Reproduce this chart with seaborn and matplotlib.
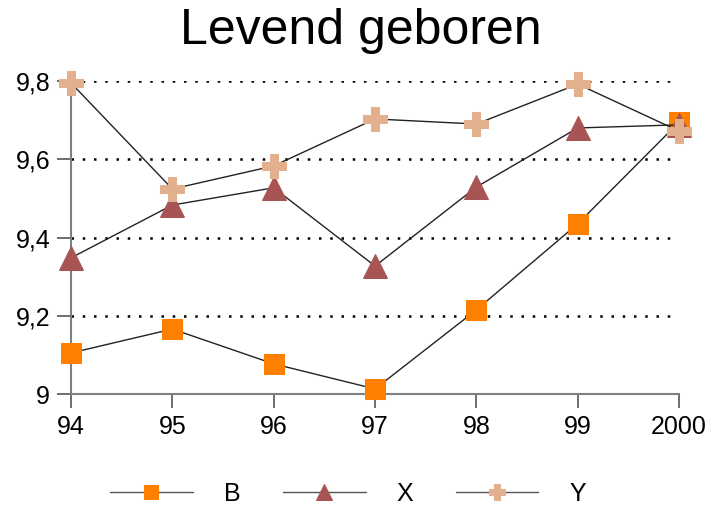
import matplotlib
matplotlib.use('Agg')
import matplotlib.pyplot as plt
import seaborn as sns
import pandas as pd

# data
jaren = ['94', '95', '96', '97', '98', '99', '2000']
B = [9.105, 9.166, 9.077, 9.013, 9.215, 9.435, 9.695]
X = [9.348, 9.483, 9.527, 9.327, 9.529, 9.680, 9.688]
Y = [9.795, 9.524, 9.583, 9.703, 9.690, 9.792, 9.672]
y_ticks = [9, 9.2, 9.4, 9.6, 9.8]
y_labels = ['9', '9,2', '9,4', '9,6', '9,8']

sns.set_style('white')
plt.rcParams['font.family'] = ['Liberation Sans', 'DejaVu Sans']
plt.rcParams['text.color'] = 'black'
plt.rcParams['xtick.labelcolor'] = 'black'
plt.rcParams['ytick.labelcolor'] = 'black'

df = pd.DataFrame({'pos': range(len(jaren)), 'B': B, 'X': X, 'Y': Y})

fig = plt.figure(figsize=(7.11, 5.05), dpi=100)
ax = fig.add_axes([0.0999, 0.2198, 0.8552, 0.6198])

stijl = {
    'B': dict(marker='s', markerfacecolor='#ff8000', markeredgecolor='#ff8000', markersize=15),
    'X': dict(marker='^', markerfacecolor='#a85454', markeredgecolor='#a85454', markersize=17),
    'Y': dict(marker='P', markerfacecolor='#e3b08e', markeredgecolor='#e3b08e', markersize=17),
}
for reeks in ['B', 'X', 'Y']:
    sns.lineplot(data=df, x='pos', y=reeks, ax=ax, color='#222222', linewidth=1,
                 label=reeks, clip_on=False, zorder=3, **stijl[reeks])

ax.set_xlim(0, len(jaren) - 1)
ax.set_ylim(9, 9.8)
ax.set_xticks(range(len(jaren)))
ax.set_xticklabels(jaren, fontsize=18)
ax.set_yticks(y_ticks)
ax.set_yticklabels(y_labels, fontsize=18)
ax.set_xlabel('')
ax.set_ylabel('')

ax.yaxis.grid(True, linestyle=(0, (1, 3.5)), color='black', linewidth=1.8)
ax.xaxis.grid(False)
for s in ['top', 'right']:
    ax.spines[s].set_visible(False)
for s in ['left', 'bottom']:
    ax.spines[s].set_color('#808080')
    ax.spines[s].set_linewidth(1.5)
ax.tick_params(axis='both', direction='out', length=10, width=1.2, color='#555555',
               left=True, bottom=True, pad=5)

fig.suptitle('Levend geboren', fontsize=36, x=0.508, y=0.985, color='black')

leg = ax.legend(loc='center', bbox_to_anchor=(0.456, -0.32), ncol=3, frameon=False,
                fontsize=18, handlelength=3.3, handletextpad=1.25, columnspacing=1.7,
                markerscale=0.7)
for h in leg.get_lines():
    h.set_color('#555555')

plt.savefig('out.png', dpi=100)
